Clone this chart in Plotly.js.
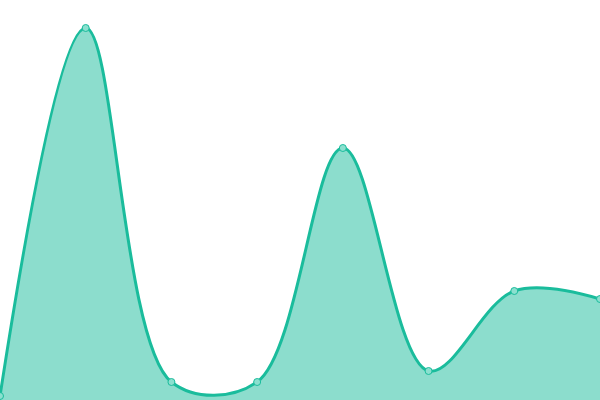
<!DOCTYPE html>
<html>
<head>
<meta charset="utf-8">
<script src="https://cdn.plot.ly/plotly-3.0.1.min.js"></script>
<style>
  html, body { margin: 0; padding: 0; background: #fff; }
  #chart { width: 600px; height: 400px; }
</style>
</head>
<body>
<div id="chart"></div>
<script>
// values, one per point
const categories = [0, 1, 2, 3, 4, 5, 6, 7];
const values = [4, 372, 18, 18, 252, 29, 109, 101];

const trace = {
  x: categories,
  y: values,
  type: 'scatter',
  mode: 'lines+markers',
  fill: 'tozeroy',
  fillcolor: 'rgba(26,188,156,0.5)',
  line: { color: '#1abc9c', width: 3, shape: 'spline', smoothing: 1 },
  marker: { size: 7, color: '#8be0cf', line: { color: '#1abc9c', width: 1 } },
  hoverinfo: 'none'
};

const layout = {
  width: 600, height: 400,
  margin: { l: 0, r: 0, t: 0, b: 0 },
  paper_bgcolor: '#fff', plot_bgcolor: '#fff',
  showlegend: false,
  xaxis: { range: [0, 7], visible: false, fixedrange: true },
  yaxis: { range: [0, 400], visible: false, fixedrange: true }
};

Plotly.newPlot('chart', [trace], layout, { staticPlot: true });
</script>
</body>
</html>
